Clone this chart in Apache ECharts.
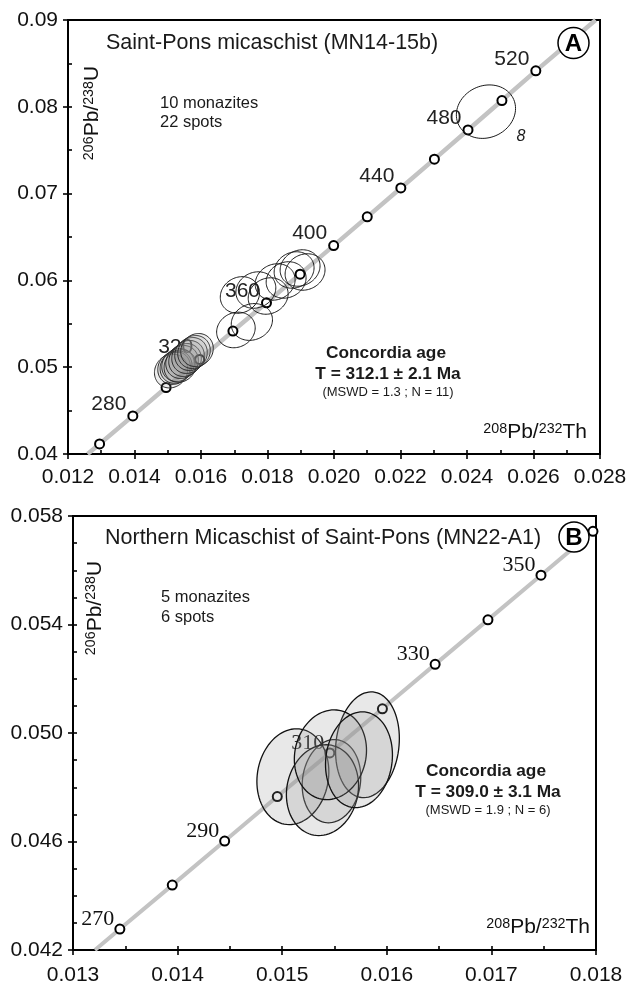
<!DOCTYPE html>
<html>
<head>
<meta charset="utf-8">
<script src="https://cdn.jsdelivr.net/npm/echarts@6/dist/echarts.min.js"></script>
<style>html,body{margin:0;padding:0;background:#fff}#c{width:633px;height:986px}</style>
</head>
<body>
<div id="c"></div>
<script>
// ---------- Chart A (top) ----------
const topAges  = [260, 280, 300, 320, 340, 360, 380, 400, 420, 440, 460, 480, 500, 520];
const topConcX = [0.01295, 0.01395, 0.01495, 0.01596, 0.01696, 0.01797, 0.01898, 0.01999, 0.02100, 0.02201, 0.02302, 0.02403, 0.02505, 0.02607];
const topConcY = [0.04116, 0.04439, 0.04766, 0.05089, 0.05416, 0.05742, 0.06072, 0.06401, 0.06732, 0.07065, 0.07397, 0.07733, 0.08072, 0.08414];
const topLabelAges = [280, 320, 360, 400, 440, 480, 520];
const topCurveX = [0.01259, 0.01295, 0.01395, 0.01495, 0.01596, 0.01696, 0.01797, 0.01898, 0.01999, 0.02100, 0.02201, 0.02302, 0.02403, 0.02505, 0.02607, 0.02787];
const topCurveY = [0.04000, 0.04116, 0.04439, 0.04766, 0.05089, 0.05416, 0.05742, 0.06072, 0.06401, 0.06732, 0.07065, 0.07397, 0.07733, 0.08072, 0.08414, 0.09000];
// ellipses: [centre x, centre y, half-width x, half-height y, correlation]
const topOpenEllipses = [
  [0.01705, 0.05429, 0.00058, 0.00205, 0.12],
  [0.01753, 0.05521, 0.00062, 0.00212, 0.12],
  [0.01717, 0.05832, 0.00059, 0.00211, 0.12],
  [0.01765, 0.05889, 0.00060, 0.00210, 0.12],
  [0.01802, 0.05820, 0.00060, 0.00210, 0.12],
  [0.01823, 0.05982, 0.00060, 0.00210, 0.12],
  [0.01856, 0.06005, 0.00060, 0.00210, 0.12],
  [0.01880, 0.06120, 0.00060, 0.00210, 0.12],
  [0.01898, 0.06143, 0.00060, 0.00210, 0.12],
  [0.01913, 0.06097, 0.00060, 0.00210, 0.12],
  [0.02457, 0.07944, 0.00089, 0.00308, 0.12]
];
const topFilledEllipses = [
  [0.01510, 0.04956, 0.00050, 0.00195, 0.1],
  [0.01519, 0.04991, 0.00049, 0.00190, 0.1],
  [0.01525, 0.05002, 0.00048, 0.00188, 0.1],
  [0.01531, 0.05025, 0.00049, 0.00190, 0.1],
  [0.01537, 0.05014, 0.00048, 0.00188, 0.1],
  [0.01543, 0.05060, 0.00049, 0.00190, 0.1],
  [0.01552, 0.05083, 0.00049, 0.00190, 0.1],
  [0.01561, 0.05118, 0.00049, 0.00190, 0.1],
  [0.01570, 0.05152, 0.00049, 0.00190, 0.1],
  [0.01579, 0.05175, 0.00049, 0.00190, 0.1],
  [0.01588, 0.05198, 0.00049, 0.00190, 0.1]
];
const topXTicks = {min: 0.012, max: 0.028, interval: 0.002};
const topYTicks = {min: 0.04, max: 0.09, interval: 0.01};

// ---------- Chart B (bottom) ----------
const botAges  = [270, 280, 290, 300, 310, 320, 330, 340, 350, 360];
const botConcX = [0.013448, 0.013949, 0.014450, 0.014953, 0.015455, 0.015958, 0.016462, 0.016967, 0.017474, 0.017971];
const botConcY = [0.042773, 0.044392, 0.046017, 0.047658, 0.049264, 0.050893, 0.052530, 0.054171, 0.055818, 0.057434];
const botLabelAges = [270, 290, 310, 330, 350];
const botCurveX = [0.01321, 0.013448, 0.013949, 0.014450, 0.014953, 0.015455, 0.015958, 0.016462, 0.016967, 0.017474, 0.017971];
const botCurveY = [0.04200, 0.042773, 0.044392, 0.046017, 0.047658, 0.049264, 0.050893, 0.052530, 0.054171, 0.055818, 0.057434];
const botEllipses = [
  [0.015471, 0.048224, 0.000280, 0.001534, 0.1],
  [0.015815, 0.049566, 0.000305, 0.001950, 0.12],
  [0.015102, 0.048389, 0.000344, 0.001766, 0.1],
  [0.015385, 0.047893, 0.000345, 0.001674, 0.1],
  [0.015461, 0.049198, 0.000345, 0.001655, 0.1],
  [0.015734, 0.049014, 0.000320, 0.001766, 0.1]
];
const botXTicks = {min: 0.013, max: 0.018, interval: 0.001};
const botYTicks = {min: 0.042, max: 0.058, interval: 0.004};

// ---------- helpers ----------
const SANS = "'Liberation Sans', Arial, sans-serif";
const SERIF = "'Liberation Serif', 'Times New Roman', serif";

function zip(xs, ys) { return xs.map((x, i) => [x, ys[i]]); }

function makeAxes(gridIndex, t, dim, decimals, minorSplit, margin) {
  const pos = dim === 'x' ? 'bottom' : 'left';
  const labelled = {
    type: 'value', gridIndex, min: t.min, max: t.max, interval: t.interval, position: pos,
    axisLine: {show: true, onZero: false, lineStyle: {color: '#000', width: 2}},
    axisTick: {show: true, inside: false, length: 5, lineStyle: {color: '#000', width: 1.6}},
    minorTick: {show: false},
    splitLine: {show: false},
    axisLabel: {show: true, margin: margin, fontSize: 21, fontFamily: SANS, color: '#111',
      formatter: v => v.toFixed(decimals)}
  };
  const overlay = {
    type: 'value', gridIndex, min: t.min, max: t.max, interval: t.interval, position: pos,
    axisLine: {show: false, onZero: false},
    axisTick: {show: true, inside: true, length: 4, lineStyle: {color: '#000', width: 1.6}},
    minorTick: {show: true, splitNumber: minorSplit, length: 4, lineStyle: {color: '#000', width: 1.6}},
    splitLine: {show: false}, minorSplitLine: {show: false},
    axisLabel: {show: false}
  };
  return [labelled, overlay];
}

function ellipseRenderer(fill, stroke, lw) {
  return function (params, api) {
    const cx = api.value(0), cy = api.value(1), ax = api.value(2), ay = api.value(3), r = api.value(4);
    const s = Math.sqrt(1 - r * r);
    const pts = [];
    const N = 90;
    for (let i = 0; i < N; i++) {
      const t = i / N * Math.PI * 2;
      pts.push(api.coord([cx + ax * Math.cos(t), cy + ay * (r * Math.cos(t) + s * Math.sin(t))]));
    }
    return {type: 'polygon', shape: {points: pts}, style: {fill: fill, stroke: stroke, lineWidth: lw}};
  };
}

function markerData(xs, ys, ages, labelAges) {
  return xs.map((x, i) => ({value: [x, ys[i], ages[i]], label: {show: labelAges.indexOf(ages[i]) >= 0}}));
}

const xa = makeAxes(0, topXTicks, 'x', 3, 2, 13).concat(makeAxes(1, botXTicks, 'x', 3, 2, 15));
const ya = makeAxes(0, topYTicks, 'y', 2, 2, 10).concat(makeAxes(1, botYTicks, 'y', 3, 4, 10));

function supText(a, b, c, d, size) {
  return {
    text: '{s|' + a + '}{m|' + b + '}{s|' + c + '}{m|' + d + '}',
    rich: {
      s: {fontSize: size * 0.68, fontFamily: SANS, fill: '#111', verticalAlign: 'top'},
      m: {fontSize: size, fontFamily: SANS, fill: '#111', verticalAlign: 'bottom'}
    }
  };
}

function txt(x, y, text, size, opts) {
  opts = opts || {};
  return {
    type: 'text', x: x, y: y, z: 100, rotation: opts.rotation || 0,
    style: Object.assign({
      text: text, x: 0, y: 0, fontSize: size, fontFamily: opts.family || SANS,
      fontWeight: opts.weight || 'normal', fontStyle: opts.style || 'normal', fill: opts.fill || '#1a1a1a',
      align: opts.align || 'left', verticalAlign: opts.valign || 'middle',
      textAlign: opts.align || 'left', textVerticalAlign: opts.valign || 'middle'
    }, opts.extra || {})
  };
}

function badge(cx, cy, r, letter) {
  return [
    {type: 'circle', z: 100, shape: {cx: cx, cy: cy, r: r}, style: {fill: '#fff', stroke: '#000', lineWidth: 1.5}},
    txt(cx, cy + 1, letter, 24, {weight: 'bold', align: 'center', fill: '#000'})
  ];
}

const xName = (x, y) => ({type: 'text', x: x, y: y, z: 100,
  style: Object.assign(supText('208', 'Pb/', '232', 'Th', 21), {x: 0, y: 0, align: 'right', verticalAlign: 'bottom', textAlign: 'right', textVerticalAlign: 'bottom'})});
const yName = (x, y) => ({type: 'text', x: x, y: y, z: 100, rotation: Math.PI / 2,
  style: Object.assign(supText('206', 'Pb/', '238', 'U', 21), {x: 0, y: 0, align: 'center', verticalAlign: 'middle', textAlign: 'center', textVerticalAlign: 'middle'})});

const graphics = [].concat(
  [txt(106, 43, 'Saint-Pons micaschist (MN14-15b)', 21.5),
   txt(160, 103, '10 monazites', 16.5),
   txt(160, 122, '22 spots', 16.5),
   txt(386, 353, 'Concordia age', 17.3, {weight: 'bold', align: 'center'}),
   txt(388, 374, 'T = 312.1 ± 2.1 Ma', 17.3, {weight: 'bold', align: 'center'}),
   txt(388, 392, '(MSWD = 1.3 ; N = 11)', 13, {align: 'center'}),
   txt(521, 137, '8', 16, {style: 'italic', align: 'center'}),
   xName(587, 443), yName(92.5, 113)],
  badge(573.5, 43, 15.5, 'A'),
  [txt(105, 538, 'Northern Micaschist of Saint-Pons (MN22-A1)', 21.5),
   txt(161, 597, '5 monazites', 16.5),
   txt(161, 617, '6 spots', 16.5),
   txt(486, 771.5, 'Concordia age', 17.3, {weight: 'bold', align: 'center'}),
   txt(488, 792, 'T = 309.0 ± 3.1 Ma', 17.3, {weight: 'bold', align: 'center'}),
   txt(488, 810, '(MSWD = 1.9 ; N = 6)', 13, {align: 'center'}),
   xName(590, 938), yName(95, 608)],
  badge(574, 537, 15, 'B')
);

const option = {
  animation: false,
  backgroundColor: '#fff',
  grid: [
    {left: 68, top: 20, width: 532, height: 434, show: true, borderColor: '#000', borderWidth: 2, containLabel: false},
    {left: 73, top: 516, width: 523, height: 435, show: true, borderColor: '#000', borderWidth: 2, containLabel: false}
  ],
  xAxis: xa,
  yAxis: ya,
  series: [
    {type: 'line', xAxisIndex: 0, yAxisIndex: 0, data: zip(topCurveX, topCurveY), showSymbol: false, symbol: 'none',
      lineStyle: {color: '#c3c3c3', width: 4.5}, z: 1, silent: true},
    {type: 'scatter', xAxisIndex: 0, yAxisIndex: 0, data: markerData(topConcX, topConcY, topAges, topLabelAges),
      symbol: 'circle', symbolSize: 9, itemStyle: {color: '#fff', borderColor: '#000', borderWidth: 2, opacity: 1}, z: 2,
      label: {position: 'left', distance: 1, offset: [0, -12], fontSize: 21, fontFamily: SANS, color: '#222',
        formatter: p => String(p.value[2])}},
    {type: 'custom', xAxisIndex: 0, yAxisIndex: 0, data: topOpenEllipses, encode: {x: 0, y: 1}, z: 5,
      renderItem: ellipseRenderer('none', '#1a1a1a', 1)},
    {type: 'custom', xAxisIndex: 0, yAxisIndex: 0, data: topFilledEllipses, encode: {x: 0, y: 1}, z: 6,
      renderItem: ellipseRenderer('rgba(140,140,140,0.16)', '#2a2a2a', 1)},

    {type: 'line', xAxisIndex: 2, yAxisIndex: 2, data: zip(botCurveX, botCurveY), showSymbol: false, symbol: 'none',
      lineStyle: {color: '#c3c3c3', width: 4}, z: 1, silent: true},
    {type: 'scatter', xAxisIndex: 2, yAxisIndex: 2, data: markerData(botConcX, botConcY, botAges, botLabelAges),
      symbol: 'circle', symbolSize: 9, itemStyle: {color: '#fff', borderColor: '#000', borderWidth: 2, opacity: 1}, z: 2,
      label: {position: 'left', distance: 0, offset: [0, -10], fontSize: 22, fontFamily: SERIF, color: '#111',
        formatter: p => String(p.value[2])}},
    {type: 'custom', xAxisIndex: 2, yAxisIndex: 2, data: botEllipses, encode: {x: 0, y: 1}, z: 5,
      renderItem: ellipseRenderer('rgba(150,150,150,0.22)', '#111', 1.3)}
  ],
  graphic: {elements: graphics}
};

const chart = echarts.init(document.getElementById('c'), null, {renderer: 'canvas'});
chart.setOption(option);
</script>
</body>
</html>
